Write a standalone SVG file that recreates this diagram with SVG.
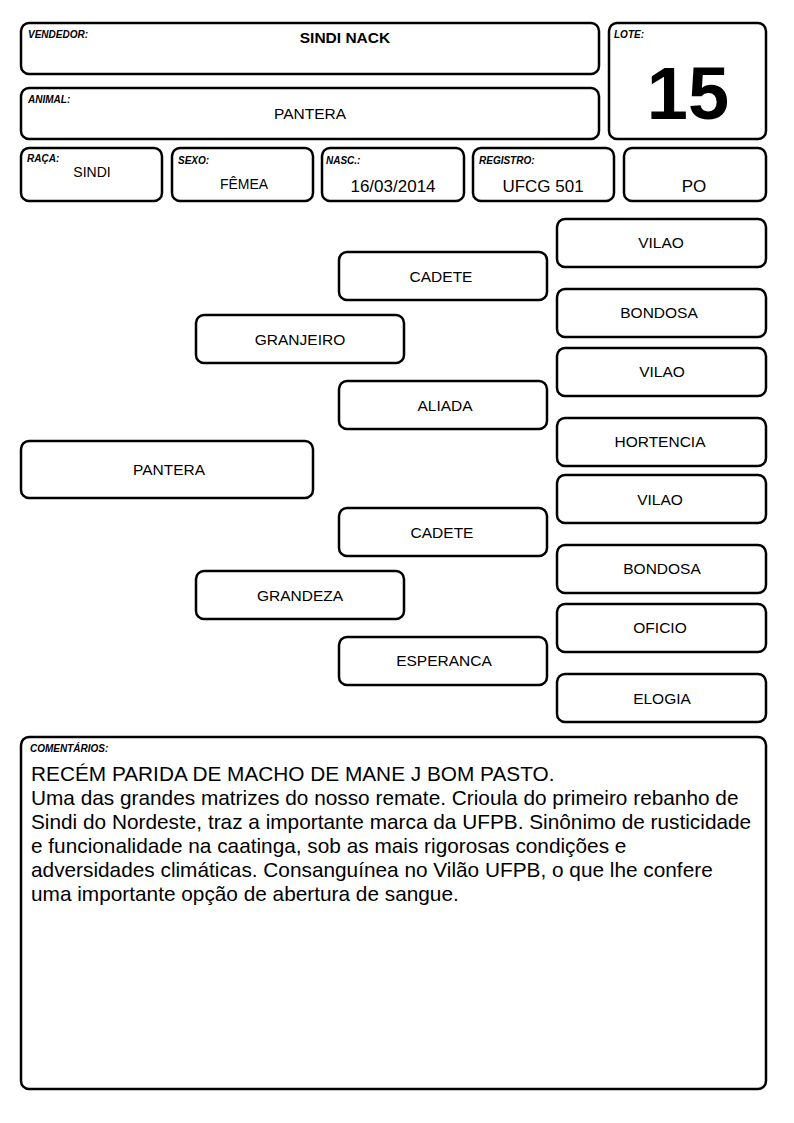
<svg xmlns="http://www.w3.org/2000/svg" width="794" height="1123" viewBox="0 0 794 1123">
<style>
.b{fill:#fff;stroke:#000;stroke-width:2.5}
.lbl{font-family:"Liberation Sans",Arial,sans-serif;font-size:10px;font-style:italic;font-weight:bold}
.t{font-family:"Liberation Sans",Arial,sans-serif;font-size:15.5px;text-anchor:middle}
.m{font-family:"Liberation Sans",Arial,sans-serif;font-size:17px;text-anchor:middle}
.s{font-family:"Liberation Sans",Arial,sans-serif;font-size:14px;text-anchor:middle}
.big{font-family:"Liberation Sans",Arial,sans-serif;font-size:74px;font-weight:bold;text-anchor:middle}
.c{font-family:"Liberation Sans",Arial,sans-serif;font-size:20.8px}
</style>
<rect width="794" height="1123" fill="#fff"/>
<g id="vendedor"><rect class="b" x="21" y="23" width="578" height="51" rx="8"/><text class="lbl" x="28" y="38">VENDEDOR:</text><text class="t" x="345" y="43" font-weight="bold">SINDI NACK</text></g>
<g id="animal"><rect class="b" x="21" y="88" width="578" height="51" rx="8"/><text class="lbl" x="28" y="103">ANIMAL:</text><text class="t" x="310" y="119">PANTERA</text></g>
<g id="lote"><rect class="b" x="609" y="23" width="157" height="116" rx="8"/><text class="lbl" x="614" y="38">LOTE:</text><text class="big" x="688" y="119">15</text></g>
<g id="raca"><rect class="b" x="21" y="148" width="141" height="53" rx="8"/><text class="lbl" x="27" y="162">RAÇA:</text><text class="s" x="92" y="177">SINDI</text></g>
<g id="sexo"><rect class="b" x="172" y="148" width="141" height="53" rx="8"/><text class="lbl" x="178" y="164">SEXO:</text><text class="s" x="244" y="189">FÊMEA</text></g>
<g id="nasc"><rect class="b" x="322" y="148" width="142" height="53" rx="8"/><text class="lbl" x="326" y="164">NASC.:</text><text class="m" x="393" y="192">16/03/2014</text></g>
<g id="registro"><rect class="b" x="473" y="148" width="141" height="53" rx="8"/><text class="lbl" x="479" y="164">REGISTRO:</text><text class="m" x="543" y="192">UFCG 501</text></g>
<g id="po"><rect class="b" x="624" y="148" width="142" height="53" rx="8"/><text class="m" x="694" y="192">PO</text></g>
<g id="connectors"></g>
<g id="n-pantera"><rect class="b" x="21" y="441" width="292" height="57" rx="8"/><text class="t" x="169" y="475">PANTERA</text></g>
<g id="n-granjeiro"><rect class="b" x="196" y="315" width="208" height="48" rx="8"/><text class="t" x="300" y="345">GRANJEIRO</text></g>
<g id="n-grandeza"><rect class="b" x="196" y="571" width="208" height="48" rx="8"/><text class="t" x="300" y="601">GRANDEZA</text></g>
<g id="n-cadete1"><rect class="b" x="339" y="252" width="208" height="48" rx="8"/><text class="t" x="441" y="282">CADETE</text></g>
<g id="n-aliada"><rect class="b" x="339" y="381" width="208" height="48" rx="8"/><text class="t" x="445" y="411">ALIADA</text></g>
<g id="n-cadete2"><rect class="b" x="339" y="508" width="208" height="48" rx="8"/><text class="t" x="442" y="538">CADETE</text></g>
<g id="n-esperanca"><rect class="b" x="339" y="637" width="208" height="48" rx="8"/><text class="t" x="444" y="666">ESPERANCA</text></g>
<g id="n-vilao1"><rect class="b" x="557" y="219" width="209" height="48" rx="8"/><text class="t" x="661" y="248">VILAO</text></g>
<g id="n-bondosa1"><rect class="b" x="557" y="289" width="209" height="48" rx="8"/><text class="t" x="659" y="318">BONDOSA</text></g>
<g id="n-vilao2"><rect class="b" x="557" y="348" width="209" height="48" rx="8"/><text class="t" x="662" y="377">VILAO</text></g>
<g id="n-hortencia"><rect class="b" x="557" y="418" width="209" height="48" rx="8"/><text class="t" x="660" y="447">HORTENCIA</text></g>
<g id="n-vilao3"><rect class="b" x="557" y="475" width="209" height="48" rx="8"/><text class="t" x="660" y="505">VILAO</text></g>
<g id="n-bondosa2"><rect class="b" x="557" y="545" width="209" height="48" rx="8"/><text class="t" x="662" y="574">BONDOSA</text></g>
<g id="n-oficio"><rect class="b" x="557" y="604" width="209" height="48" rx="8"/><text class="t" x="660" y="633">OFICIO</text></g>
<g id="n-elogia"><rect class="b" x="557" y="674" width="209" height="48" rx="8"/><text class="t" x="662" y="704">ELOGIA</text></g>
<g id="comentarios"><rect class="b" x="21" y="737" width="745" height="352" rx="8"/><text class="lbl" x="30" y="752">COMENTÁRIOS:</text>
<text class="c" x="31" y="781">RECÉM PARIDA DE MACHO DE MANE J BOM PASTO.</text>
<text class="c" x="31" y="805">Uma das grandes matrizes do nosso remate. Crioula do primeiro rebanho de</text>
<text class="c" x="31" y="829">Sindi do Nordeste, traz a importante marca da UFPB. Sinônimo de rusticidade</text>
<text class="c" x="31" y="853">e funcionalidade na caatinga, sob as mais rigorosas condições e</text>
<text class="c" x="31" y="877">adversidades climáticas. Consanguínea no Vilão UFPB, o que lhe confere</text>
<text class="c" x="31" y="901">uma importante opção de abertura de sangue.</text>
</g>
</svg>
